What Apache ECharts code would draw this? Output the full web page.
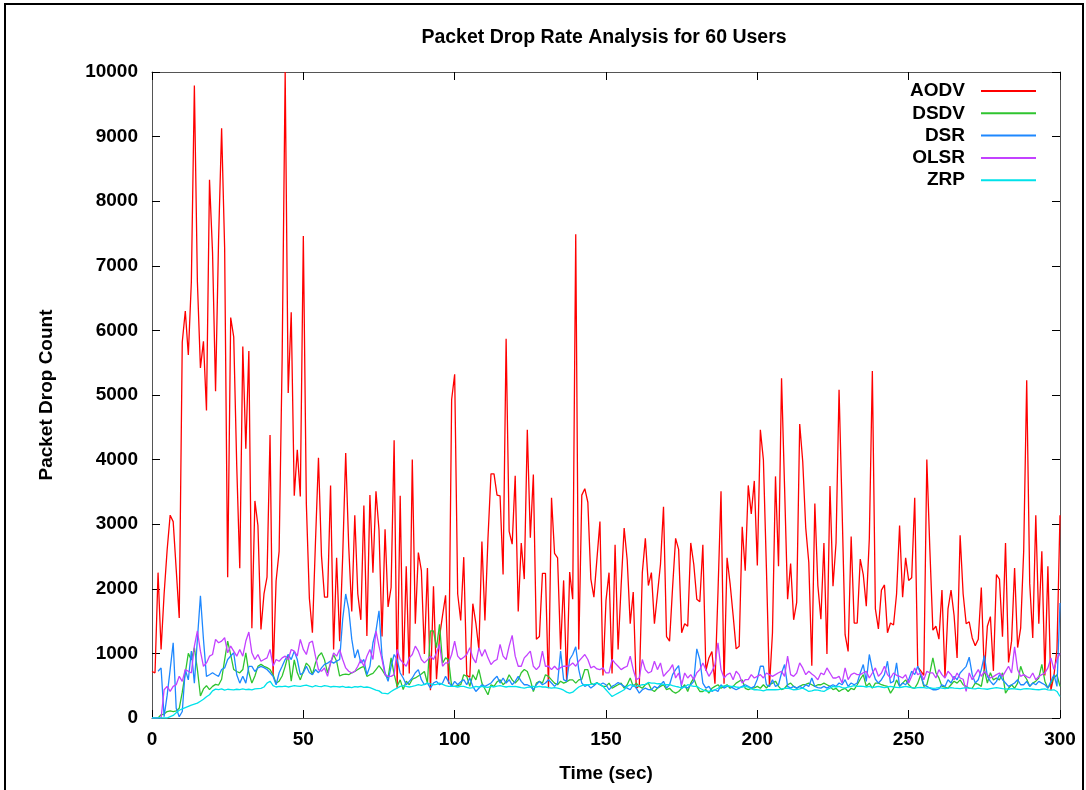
<!DOCTYPE html>
<html>
<head>
<meta charset="utf-8">
<title>Packet Drop Rate Analysis for 60 Users</title>
<script src="https://cdn.jsdelivr.net/npm/echarts/dist/echarts.min.js"></script>
<style>
  html, body { margin: 0; padding: 0; background: #ffffff; }
  #chart { width: 1086px; height: 790px; }
</style>
</head>
<body>
<div id="chart"></div>
<script>
// Simulation sampled once per second, 0..300 s
const timeStep = 1;
const xTickStep = 50;
const yTickStep = 1000;

const seriesNames = ['AODV', 'DSDV', 'DSR', 'OLSR', 'ZRP'];

// Packet drop counts per second, one array per routing protocol
const aodv = [
  720,700,2250,1060,1920,2600,3140,3040,2300,1550,
  5820,6300,5620,6750,9790,6750,5420,5830,4760,8330,
  7210,5060,7410,9130,7280,2180,6200,5900,3900,2320,
  5750,4170,5680,1390,3360,2980,1370,1920,2180,4380,
  660,2120,2580,5560,10000,5030,6280,3440,4150,3430,
  7460,3310,1850,1320,2710,4030,2510,1870,1870,3600,
  1060,2480,1190,2500,4100,2650,1650,3140,1920,1520,
  3290,1270,3450,2250,3510,2910,1260,2920,1720,2020,
  4300,460,3440,660,2350,690,4000,1460,2560,2280,
  990,2320,430,2040,600,1260,1590,1900,530,4930,
  5320,1920,1510,2490,660,630,1770,1470,1060,2730,
  1510,2780,3780,3780,3450,3440,2220,5870,2890,2690,
  3750,1650,2710,2150,4460,2790,3770,1220,1260,2240,
  2240,460,3410,2550,2480,1060,2130,560,2260,1840,
  7490,1060,3450,3550,3340,2150,1870,2460,3040,660,
  1820,2250,690,2680,1060,2050,2940,2450,1460,1950,
  460,500,2250,2780,2050,2250,1460,1920,2380,3270,
  1260,1190,2020,2780,2610,1320,1460,1420,2710,2380,
  1840,1800,2680,730,930,1030,530,1950,3510,530,
  2480,2080,1590,1070,1110,2960,2280,3600,3160,3670,
  2360,4460,4000,2320,480,1320,3740,2350,5260,3570,
  1840,2390,1520,1790,4550,3970,2940,2410,810,3320,
  2050,1530,2710,990,3590,2040,2710,5080,3240,1290,
  1030,2810,1470,1470,2460,2220,1730,2780,5370,1690,
  1380,1980,2060,1320,1470,1440,1920,2980,1870,2480,
  2130,2170,3410,790,730,660,4000,2610,1360,1420,
  1220,1980,630,1690,1980,1590,930,2830,1920,1460,
  1490,1240,1120,1220,2020,690,1420,1570,730,2220,
  2150,1260,2710,860,1190,2320,1090,1390,2580,5230,
  2080,1240,3140,1460,2580,660,2350,430,660,1060,
  3140
];

const dsdv = [
  0,0,0,50,60,100,110,100,110,150,
  400,700,1000,900,1090,750,340,450,500,440,
  490,520,510,600,900,1190,980,750,720,700,
  750,1010,700,540,650,800,830,800,780,750,
  670,540,570,650,800,980,570,900,700,590,
  720,850,800,670,850,960,1010,900,700,850,
  980,880,650,670,680,670,700,720,750,780,
  800,645,670,690,750,810,750,670,620,930,
  680,490,590,440,570,515,600,620,650,680,
  720,540,1350,1350,1090,1450,850,930,900,490,
  490,500,515,670,645,490,670,590,750,540,
  450,360,515,490,560,590,515,560,670,590,
  540,590,700,750,720,590,410,540,570,540,
  670,645,590,540,515,570,540,560,590,590,
  540,590,600,750,750,540,515,550,515,490,
  490,540,460,490,515,540,460,515,620,490,
  540,490,460,515,540,440,410,460,490,515,
  440,460,410,385,410,460,515,410,540,620,
  490,410,410,440,385,460,490,515,460,490,
  515,460,490,540,570,590,460,440,460,465,
  490,460,515,465,515,540,570,490,440,460,
  515,540,490,460,490,515,520,540,515,490,
  515,515,540,515,490,440,460,410,440,460,
  410,460,440,515,600,670,490,540,460,540,
  540,515,500,490,385,460,590,490,540,590,
  515,470,460,540,670,490,515,700,930,700,
  620,490,480,460,515,570,540,590,515,490,
  460,460,540,520,490,750,540,700,590,620,
  590,700,385,460,515,460,540,800,670,600,
  490,540,570,620,830,570,460,540,620,670,
  490
];

const dsr = [
  null,null,723,775,20,350,750,1165,150,20,
  100,750,590,1035,540,1220,1890,1220,645,670,
  700,670,645,750,775,905,960,1010,670,540,
  645,540,800,800,720,775,800,780,750,700,
  645,515,700,800,905,980,905,1035,905,670,
  700,800,700,670,750,700,775,830,850,880,
  850,880,905,1530,1920,1685,1220,930,1060,850,
  905,670,800,1165,1350,1660,957,700,567,801,
  983,905,697,619,515,567,619,700,749,593,
  515,541,463,541,567,515,541,645,560,489,
  567,515,560,593,515,619,489,411,460,515,
  489,515,541,600,645,541,619,541,593,515,
  567,645,567,515,515,489,437,515,567,515,
  541,593,541,489,540,1035,593,567,905,983,
  1102,749,541,489,515,463,500,541,515,541,
  515,437,489,515,550,520,489,463,437,515,
  463,385,437,463,440,437,489,463,515,567,
  463,515,671,749,811,463,489,463,515,567,
  1071,905,541,463,489,411,437,411,515,463,
  489,489,463,437,463,489,515,489,463,489,
  600,801,801,515,489,593,489,515,697,827,
  489,463,489,463,489,463,515,489,619,489,
  470,463,489,463,489,515,489,541,515,593,
  489,541,515,541,697,827,567,983,749,600,
  541,593,671,879,541,567,853,489,541,515,
  593,723,671,801,671,515,489,463,437,437,
  450,515,489,593,541,645,593,697,749,800,
  941,671,541,593,749,967,645,567,515,567,
  671,593,541,489,515,541,593,515,515,567,
  489,541,515,567,540,515,463,567,671,489,
  1780
];

const olsr = [
  0,0,0,0,437,489,411,489,515,645,
  567,749,723,697,1113,1347,1035,801,853,957,
  983,1217,1165,1191,1243,1009,1113,1035,957,1061,
  957,1191,1331,1009,905,983,879,905,931,1061,
  801,905,879,931,957,905,1061,1035,957,1217,
  1061,983,1165,1191,957,749,723,775,645,853,
  1009,957,1061,905,775,723,697,723,801,905,
  801,957,1061,905,1347,1113,905,671,645,645,
  671,1061,905,850,801,931,983,1113,1035,905,
  853,900,957,905,1009,1139,801,853,853,983,
  1191,957,905,940,983,1087,931,853,1087,957,
  1061,931,827,880,905,1139,957,905,1113,1279,
  957,801,801,931,980,1035,801,749,801,1035,
  801,801,749,801,749,780,801,801,811,853,
  801,879,931,983,905,775,801,760,749,775,
  697,697,905,850,801,749,780,801,957,749,
  593,619,905,749,697,720,879,749,853,645,
  700,749,827,619,697,515,697,619,671,593,
  700,749,853,749,645,723,827,1165,749,619,
  671,697,593,723,671,541,593,593,671,619,
  645,671,619,697,671,645,671,700,723,645,
  957,671,645,697,853,775,671,723,680,645,
  593,697,671,775,697,619,619,645,541,775,
  593,671,697,671,671,700,723,619,697,775,
  645,697,801,671,619,697,660,645,619,671,
  541,645,775,671,697,593,723,700,697,619,
  749,671,619,723,671,593,697,619,600,411,
  697,593,671,749,645,723,671,619,640,671,
  697,645,723,801,697,1102,749,645,671,640,
  619,697,593,645,671,697,775,931,749,905,
  1000
];

const zrp = [
  0,0,0,0,0,0,20,40,80,120,
  140,160,180,200,215,230,260,290,330,360,
  420,447,440,450,430,445,440,435,445,440,
  450,440,445,435,450,455,460,480,540,570,
  500,480,490,485,495,480,490,500,495,490,
  500,510,495,480,500,490,485,500,495,480,
  490,485,480,490,475,480,470,485,480,490,
  475,480,470,450,430,420,385,380,374,411,
  440,463,490,500,489,480,489,500,515,505,
  520,541,530,515,520,541,520,500,489,489,
  489,480,489,489,475,463,470,489,480,489,
  480,475,489,480,495,500,489,480,489,485,
  489,480,470,463,475,480,489,480,489,480,
  480,470,463,470,463,450,430,400,385,400,
  440,480,500,515,515,520,530,541,520,489,
  437,385,333,360,385,411,437,489,515,500,
  489,500,515,520,550,541,541,530,530,520,
  515,515,500,489,480,463,480,515,500,489,
  489,460,437,420,411,425,437,460,489,495,
  500,489,489,480,475,480,489,480,450,437,
  437,430,420,437,437,437,437,440,450,460,
  463,450,437,440,450,463,440,411,420,437,
  430,420,411,440,463,489,480,489,470,463,
  480,489,500,489,495,489,480,489,475,480,
  489,480,470,480,489,480,475,470,480,489,
  480,470,463,470,475,470,463,470,460,463,
  470,463,455,463,470,463,460,455,463,470,
  463,455,450,463,455,450,445,455,463,470,
  463,455,450,445,455,450,445,440,450,455,
  450,445,440,437,445,450,437,430,437,411,
  333
];

const seriesValues = [aodv, dsdv, dsr, olsr, zrp];
const seriesColors = ['#ff0000', '#2fc42f', '#1e88ff', '#c341ff', '#00e2ea'];

const fontFamily = '"Liberation Sans", Arial, Helvetica, sans-serif';
const boldText = () => ({ fontFamily: fontFamily, fontWeight: 'bold', fontSize: 19, color: '#000000' });

// [time, count] pairs for a value x axis
const toPoints = vals => vals.map((v, i) => [i * timeStep, v]);

// Inward-pointing ticks, mirrored on all four sides of the frame
const tickStyle = () => ({ show: true, inside: true, length: 8, lineStyle: { color: '#000000', width: 1 } });
const frameLine = () => ({ show: true, onZero: false, lineStyle: { color: '#555555', width: 1 } });
const plainNumber = v => String(v);

const chart = echarts.init(document.getElementById('chart'), null, { renderer: 'canvas' });

chart.setOption({
  animation: false,
  backgroundColor: '#ffffff',
  title: {
    text: 'Packet Drop Rate Analysis for 60 Users',
    left: 599,
    top: 23,
    textAlign: 'center',
    textStyle: Object.assign(boldText(), { fontSize: 19.5 })
  },
  legend: {
    orient: 'vertical',
    align: 'right',
    right: 49,
    top: 81,
    padding: 0,
    itemWidth: 55,
    itemHeight: 1,
    itemGap: 2.3,
    selectedMode: false,
    itemStyle: { opacity: 0 },
    textStyle: Object.assign(boldText(), { lineHeight: 20, padding: [0, 11, 0, 0] }),
    data: seriesNames
  },
  grid: {
    left: 152, right: 26, top: 72, bottom: 72,
    containLabel: false,
    show: false
  },
  xAxis: [
    {
      type: 'value', position: 'bottom',
      min: 0, max: 300, interval: xTickStep,
      axisLine: frameLine(),
      axisTick: tickStyle(),
      splitLine: { show: false },
      axisLabel: Object.assign(boldText(), { margin: 12, formatter: plainNumber }),
      name: 'Time (sec)',
      nameLocation: 'middle',
      nameGap: 46,
      nameTextStyle: boldText()
    },
    {
      type: 'value', position: 'top',
      min: 0, max: 300, interval: xTickStep,
      axisLine: frameLine(),
      axisTick: tickStyle(),
      splitLine: { show: false },
      axisLabel: { show: false }
    }
  ],
  yAxis: [
    {
      type: 'value', position: 'left',
      min: 0, max: 10000, interval: yTickStep,
      axisLine: frameLine(),
      axisTick: tickStyle(),
      splitLine: { show: false },
      axisLabel: Object.assign(boldText(), { margin: 14, formatter: plainNumber }),
      name: 'Packet Drop Count',
      nameLocation: 'middle',
      nameGap: 96,
      nameTextStyle: boldText()
    },
    {
      type: 'value', position: 'right',
      min: 0, max: 10000, interval: yTickStep,
      axisLine: frameLine(),
      axisTick: tickStyle(),
      splitLine: { show: false },
      axisLabel: { show: false }
    }
  ],
  graphic: [
    {
      type: 'rect',
      silent: true,
      shape: { x: 5, y: 4, width: 1078, height: 830 },
      style: { fill: 'none', stroke: '#000000', lineWidth: 2 }
    }
  ],
  series: seriesNames.map((name, k) => ({
    name: name,
    type: 'line',
    xAxisIndex: 0,
    yAxisIndex: 0,
    symbol: 'none',
    showSymbol: false,
    smooth: false,
    connectNulls: false,
    color: seriesColors[k],
    lineStyle: { color: seriesColors[k], width: 1.3 },
    emphasis: { disabled: true },
    data: toPoints(seriesValues[k])
  }))
});
</script>
</body>
</html>
